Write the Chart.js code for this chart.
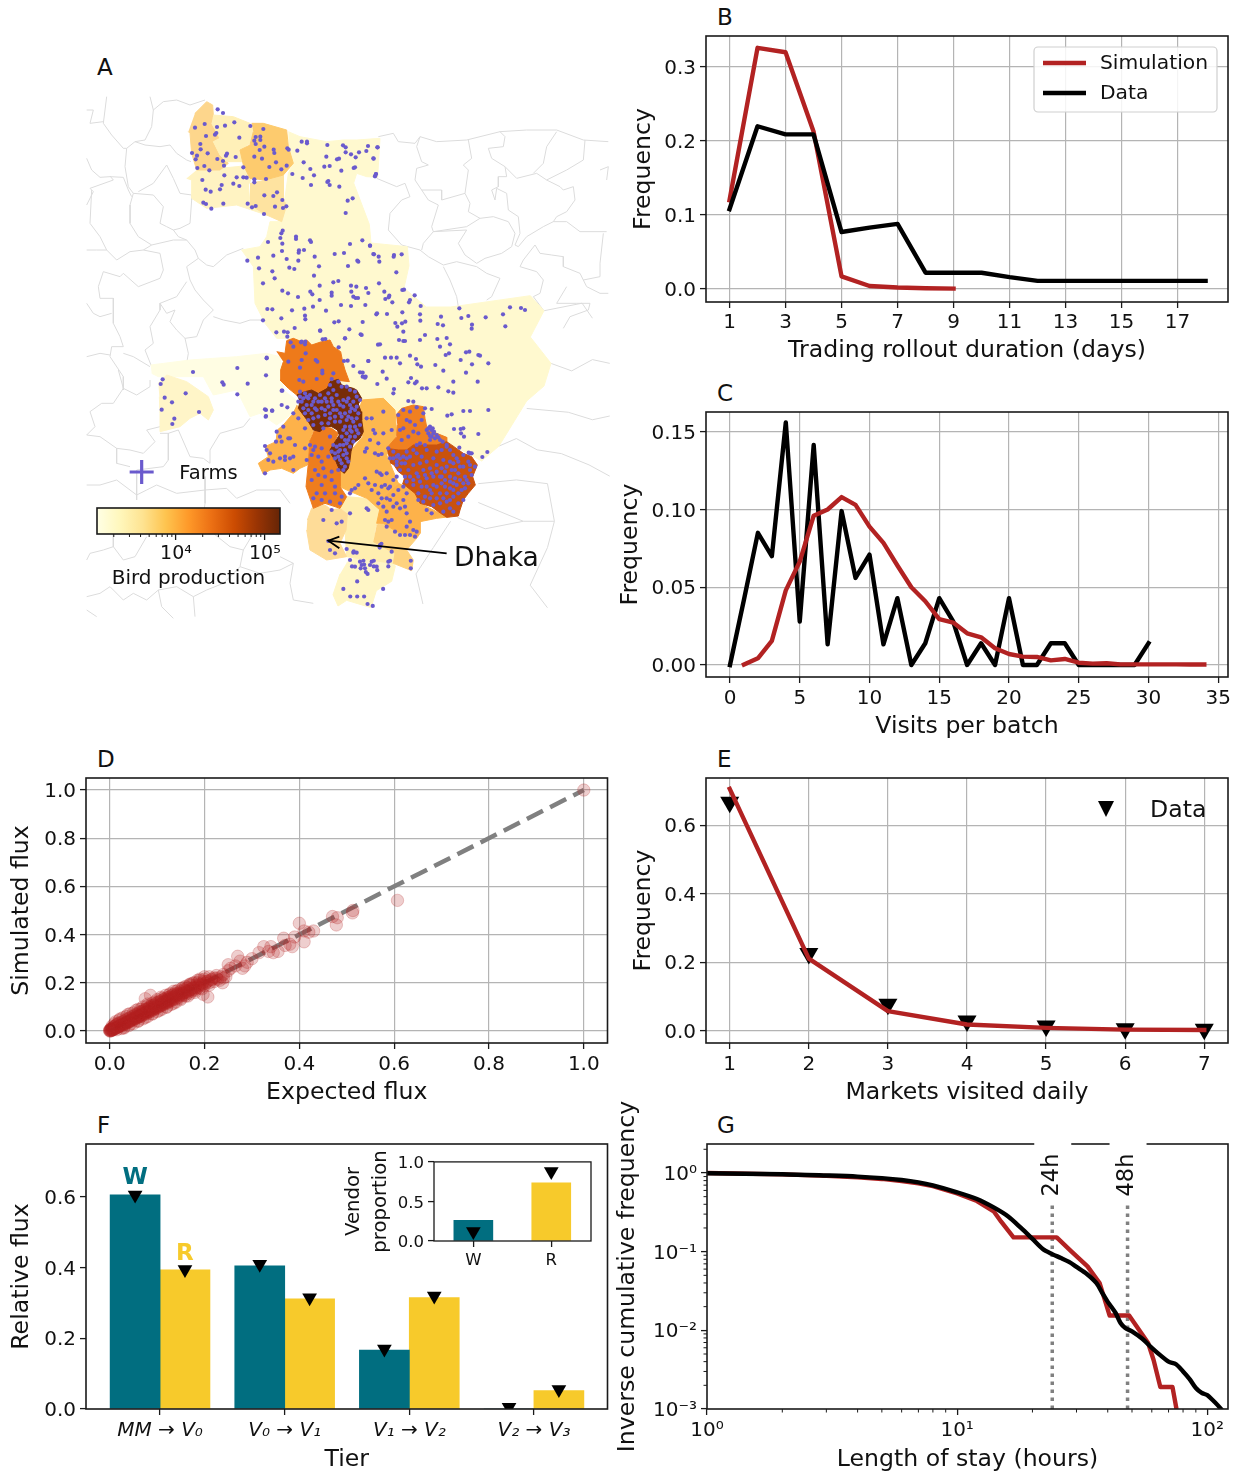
<!DOCTYPE html>
<html>
<head>
<meta charset="utf-8">
<title>Poultry trade model</title>
<script src="https://cdn.jsdelivr.net/npm/chart.js@4"></script>
<style>
  html, body { margin: 0; padding: 0; background: #fff; width: 1244px; height: 1473px; overflow: hidden; }
  canvas { position: absolute; }
  .tag { position: absolute; font: 23px "DejaVu Sans"; color: #111; }
</style>
</head>
<body>
<div class="tag" style="left:97px;top:54px">A</div>
<div class="tag" style="left:717px;top:4px">B</div>
<div class="tag" style="left:717px;top:380px">C</div>
<div class="tag" style="left:97px;top:746px">D</div>
<div class="tag" style="left:717px;top:746px">E</div>
<div class="tag" style="left:97px;top:1112px">F</div>
<div class="tag" style="left:717px;top:1112px">G</div>
<script>
// ---- panel B
const rolloutDays = [1, 2, 3, 4, 5, 6, 7, 8, 9, 10, 11, 12, 13, 14, 15, 16, 17, 18];
const rolloutSim = [0.12, 0.326, 0.32, 0.213, 0.017, 0.004, 0.002, 0.001, 0.0005];
const rolloutData = [0.108, 0.22, 0.209, 0.209, 0.077, 0.083, 0.088, 0.022, 0.022, 0.022, 0.016, 0.011, 0.011, 0.011, 0.011, 0.011, 0.011, 0.011];
const rolloutXTicks = [1, 3, 5, 7, 9, 11, 13, 15, 17];
const rolloutYTicks = [0, 0.1, 0.2, 0.3];

// ---- panel C
const visitsData = [0, 0.042, 0.085, 0.07, 0.156, 0.028, 0.1415, 0.0133, 0.099, 0.056, 0.071, 0.0133, 0.043, 0, 0.014, 0.043, 0.028, 0, 0.014, 0, 0.043, 0, 0, 0.014, 0.014, 0, 0, 0, 0, 0, 0.014];
const visitsSim = [0.0003, 0.0043, 0.0155, 0.048, 0.0665, 0.096, 0.1, 0.108, 0.103, 0.089, 0.0785, 0.064, 0.05, 0.041, 0.0295, 0.0273, 0.0204, 0.0178, 0.0108, 0.0071, 0.0054, 0.0052, 0.003, 0.0039, 0.0015, 0.0009, 0.0011, 0.0004, 0.0004, 0.0004, 0.0004, 0.0004, 0.0003, 0.0003];
const visitsXTicks = [0, 5, 10, 15, 20, 25, 30, 35];
const visitsYTicks = [0, 0.05, 0.1, 0.15];

// ---- panel D (expected, simulated)
const fluxPoints = [[1,1],[.607,.542],[.513,.5],[.512,.49],[.48,.47],[.47,.475],[.478,.44],[.4,.447],[.42,.41],[.41,.415],[.43,.415],[.41,.37],[.39,.39],[.367,.385],[.38,.36],[.37,.355],[.385,.35],[.315,.325],[.325,.35],[.34,.35],[.335,.33],[.355,.33],[.345,.325],[.3,.3],[.27,.31],[.275,.29],[.29,.285],[.285,.27],[.28,.26],[.265,.27],[.25,.275],[.255,.26],[.25,.25],[.24,.22],
[.197,.152],[.207,.141],[.075,.134],[.086,.148],[.245,.225],[.24,.235],[.238,.2],[.235,.225],[.232,.21],[.228,.215],[.225,.23],[.22,.22],[.22,.205],[.215,.212],[.21,.225],[.21,.2],[.208,.208],[.2,.215],[.202,.198],[.198,.205],[.19,.21],[.195,.19],[.19,.195],[.185,.2],[.185,.178],[.182,.19],[.175,.198],[.178,.172],[.176,.18],[.17,.19],[.172,.165],[.17,.172],[.164,.18],[.165,.158],[.162,.165],[.157,.172],[.158,.15],[.155,.158],[.15,.165],[.152,.146],[.148,.152],[.144,.157],[.146,.14],[.142,.148],[.138,.155],[.14,.133],[.136,.142],[.133,.15],[.134,.13],[.132,.138],[.129,.145],[.13,.125],[.128,.134],[.125,.14],[.126,.122],[.124,.13],[.121,.138],[.122,.118],[.12,.126],[.117,.134],[.118,.114],[.116,.122],[.113,.13],[.114,.11],[.112,.118],[.109,.126],[.11,.106],[.108,.112],[.105,.122],[.106,.102],[.104,.108],[.101,.118],[.102,.098],[.1,.104],[.097,.113],[.098,.094],[.096,.1],[.093,.108],[.094,.09],[.092,.096],[.089,.105],[.09,.085],[.088,.09],[.085,.1],[.086,.08],[.084,.086],[.081,.095],[.082,.078],[.08,.082],[.077,.09],[.078,.072],[.076,.078],[.073,.088],[.074,.069],[.072,.074],[.069,.082],[.07,.066],[.068,.07],[.065,.08],[.066,.06],[.064,.066],[.061,.075],[.062,.058],[.06,.06],[.057,.07],[.058,.054],[.056,.058],[.053,.066],[.054,.05],[.052,.053],[.049,.06],[.05,.046],[.048,.05],[.045,.058],[.046,.043],[.044,.046],[.041,.052],[.042,.038],[.04,.04],[.037,.05],[.038,.034],[.036,.037],[.033,.045],[.034,.03],[.032,.032],[.029,.04],[.03,.026],[.028,.029],[.025,.036],[.026,.021],[.024,.024],[.021,.033],[.022,.022],[.02,.019],[.017,.03],[.018,.016],[.015,.027],[.016,.015],[.013,.023],[.014,.012],[.011,.02],[.012,.01],[.009,.018],[.01,.008],[.007,.014],[.008,.006],[.005,.012],[.006,.004],[.003,.009],[.004,.002],[.001,.006],[.002,0],[0,.003],[0,0],[.001,.001],[.003,.003],[.002,.005],[.005,.005],[.006,.008],
[.02,.045],[.03,.015],[.035,.06],[.045,.03],[.05,.075],[.06,.04],[.065,.09],[.075,.055],[.08,.105],[.09,.07],[.095,.12],[.105,.085],[.11,.135],[.12,.1],[.125,.15],[.135,.115],[.14,.165],[.15,.13],[.155,.18],[.165,.145],[.17,.195],[.18,.16],[.185,.21],[.195,.175],[.2,.225],[.21,.19],[.14,.15],[.15,.15],[.16,.16],[.17,.17],[.18,.18],[.19,.19],[.13,.13],[.12,.12],[.11,.11],[.1,.1],[.09,.09],[.08,.08],[.07,.07],[.06,.06],[.05,.05],[.04,.04],[.03,.03],[.02,.02],[.01,.01],[.015,.005],[.025,.01],[.01,.03],[.005,.02],[.145,.145],[.135,.135],[.125,.125],[.115,.115],[.105,.105],[.095,.095],[.085,.085],[.075,.075],[.065,.065],[.055,.055],[.045,.045],[.035,.035],[.025,.025],[.015,.015],[.155,.155],[.165,.165],[.175,.175],[.185,.185],[.195,.195],[.205,.205],[.215,.215],[.225,.22],
[.012,.038],[.022,.05],[.028,.055],[.038,.068],[.043,.072],[.055,.085],[.06,.09],[.07,.1],[.08,.112],[.09,.115],[.1,.13],[.108,.14],[.118,.148],[.128,.155],[.135,.165],[.145,.17],[.152,.175],[.16,.185],[.168,.192],[.178,.2],[.19,.215],[.03,.012],[.04,.022],[.05,.03],[.06,.042],[.07,.05],[.08,.06],[.09,.072],[.1,.08],[.11,.09],[.12,.098],[.13,.11],[.14,.12],[.15,.135],[.16,.145],[.17,.155],[.18,.168],[.19,.178],[.2,.188],[.115,.125],[.108,.118],[.122,.132],[.13,.14],[.095,.105],[.088,.098],[.082,.092],[.072,.082],[.067,.076],[.058,.066],[.15,.157],[.158,.168],[.142,.152]];
const identityLine = [0, 1];
const fluxTicks = [0, 0.2, 0.4, 0.6, 0.8, 1];

// ---- panel E
const marketsVisited = [1, 2, 3, 4, 5, 6, 7];
const marketsSim = [0.706, 0.211, 0.058, 0.019, 0.009, 0.004, 0.003];
const marketsData = [0.667, 0.226, 0.078, 0.029, 0.0146, 0.0068, 0.005];
const marketsYTicks = [0, 0.2, 0.4, 0.6];

// ---- panel F
const tierLabels = ["MM → V₀", "V₀ → V₁", "V₁ → V₂", "V₂ → V₃"];
const tierPos = [0, 1, 2, 3];
const wholesaleFlux = [0.606, 0.405, 0.167, 0];
const retailFlux = [0.394, 0.312, 0.315, 0.052];
const wholesaleFluxData = [0.606, 0.41, 0.17, 0.005];
const retailFluxData = [0.395, 0.315, 0.32, 0.055];
const tierYTicks = [0, 0.2, 0.4, 0.6];
const vendorLabels = ["W", "R"];
const vendorSim = [0.26, 0.735];
const vendorData = [0.12, 0.88];
const vendorYTicks = [0, 0.5, 1];

// ---- panel G
const stayHoursData = [1, 2, 3, 4, 5, 6, 7, 8, 10, 12, 14, 16, 18, 20, 22, 24, 26, 28, 30, 33, 36, 38, 40, 43, 45, 47, 50, 55, 60, 65, 70, 75, 80, 85, 90, 95, 100, 105, 110, 115];
const stayFreqData = [0.99, 0.965, 0.93, 0.9, 0.86, 0.815, 0.76, 0.695, 0.568, 0.467, 0.365, 0.28, 0.2, 0.145, 0.108, 0.093, 0.083, 0.074, 0.064, 0.052, 0.04, 0.03, 0.023, 0.0166, 0.0124, 0.0107, 0.0097, 0.0078, 0.006, 0.0048, 0.004, 0.0037, 0.003, 0.0024, 0.00185, 0.0016, 0.0015, 0.0013, 0.00112, 0.00095];
const stayHoursSim = [1, 2, 3, 4, 5, 6, 7, 8, 10, 12, 14, 15, 16.8, 25, 28.6, 33.2, 37.1, 40.7, 48.7, 58, 61, 64.9, 72.6, 75.3, 76.5];
const stayFreqSim = [1, 0.96, 0.92, 0.88, 0.84, 0.79, 0.74, 0.68, 0.55, 0.44, 0.326, 0.24, 0.152, 0.152, 0.101, 0.065, 0.04, 0.0154, 0.0154, 0.0069, 0.0042, 0.0019, 0.0019, 0.001, 0.0008];
const stayMarkers = [24, 48];
const stayMarkerTop = 0.385;
const stayXTicks = [1, 10, 100];
const stayYTicks = [1, 0.1, 0.01, 0.001];
const superLabel = { "-3": "10⁻³", "-2": "10⁻²", "-1": "10⁻¹", "0": "10⁰", "1": "10¹", "2": "10²", "4": "10⁴", "5": "10⁵" };

// ---- panel A: everything in map units, per sheet
// sheet N: unit 0,0 top left. other sheets get moved on to it in place()
const regionColours = {
  light: "#fff9cf", strip: "#fffde3", west: "#fff5c8", nwA: "#fdd68c", nwB: "#fff0b8", nwMid: "#fdcb6e", nwC: "#fff3c2", nwD: "#fee3a0",
  orange: "#ee7a1a", brown: "#772c08", midOrange: "#fdb24a", darkOrange: "#c9520e", centre: "#fdb84f", pale: "#ffeeb0", dhaka: "#fedc98", south: "#fed27f", tail: "#fff6c6"
};
const polyLight = [625,125,660,140,740,155,790,150,830,150,900,145,893,262,860,260,830,250,821,279,868,403,873,459,982,470,987,527,972,594,1039,651,1112,651,1351,617,1392,662,1351,741,1413,820,1392,888,1340,933,1257,1068,1205,1113,1090,1050,880,930,810,930,620,745,590,745,555,700,525,640,520,530,485,480,540,470,560,440,570,395,605,395,625,250,640,220,625,170];
const polyNwA = [345,70,380,35,398,45,400,75,395,100,420,145,400,155,420,195,445,220,420,240,350,240,335,190,330,130,325,125];
const polyNwB = [400,75,460,80,510,100,520,120,510,160,480,180,490,215,440,215,420,195,400,155,420,145,395,100];
const polyNwMid = [515,100,550,100,620,120,625,170,640,220,610,255,555,270,510,265,490,225,480,180,510,165,520,125];
const polyNwC = [350,240,420,235,490,228,515,265,505,285,510,340,560,375,470,345,380,355,335,325,335,270,320,265];
const polyNwD = [510,280,560,270,610,255,610,330,620,345,605,395,560,375,510,345];
// sheet W
const polyStrip = [212,-15,330,-30,470,-40,560,-50,600,-40,610,60,655,95,625,140,590,165,540,130,510,140,490,100,470,60,400,75,370,20,235,20,215,10];
const polyWest = [235,40,260,15,320,35,385,80,400,120,385,150,360,130,330,145,300,170,240,185,240,130,238,80];
// sheet C
const polyOrangeTop = [80,65,105,70,110,32,130,25,155,35,170,30,185,45,215,35,240,30,250,50,272,65,278,95,285,120,298,155,272,152,245,150,235,175,215,190,185,180,165,185,140,195,115,175,90,150,92,120,100,95];
const polySwMid = [140,225,155,245,175,275,190,300,180,330,172,405,150,415,130,430,95,415,60,420,40,432,25,400,55,380,45,350,78,335,82,300,100,285,125,255];
const polyOrangeLow = [190,305,220,290,245,295,265,310,240,365,270,420,270,470,290,500,270,535,225,520,190,535,168,470,175,400,180,330];
const polyBrown = [140,195,165,185,185,180,205,190,232,175,240,155,265,148,275,165,298,172,310,175,320,180,335,205,325,222,333,245,335,270,340,305,330,325,310,340,303,365,300,390,295,415,283,430,268,418,258,395,245,375,240,360,252,340,268,315,262,300,245,290,225,290,210,305,190,300,175,275,160,255,145,235,150,215];
const polyCentre = [335,210,400,205,435,240,440,310,430,340,410,375,420,400,445,460,400,500,390,540,350,505,290,480,270,470,270,420,300,400,300,365,338,320,330,225];
const polyEastNorth = [438,255,455,235,490,225,520,230,525,265,530,290,560,310,590,322,590,340,560,345,490,345,470,360,440,360,410,355,440,320,442,285];
const polyEastDark = [410,355,445,360,470,360,490,345,520,345,560,345,590,335,612,350,640,370,665,380,682,405,668,440,676,465,655,490,640,510,630,540,625,558,590,562,565,545,545,530,510,520,495,490,470,470,458,462,465,440,445,425,432,405,420,398];
const polySouthMid = [350,505,400,500,445,460,490,480,510,520,560,545,600,560,560,565,510,575,510,610,500,625,440,605,400,580,380,580,390,535];
const polySouthEdge = [380,585,400,580,440,605,500,625,470,660,490,690,485,722,430,700,435,670,370,635];
const polyPale = [270,535,290,500,345,505,390,540,375,600,370,635,435,670,430,700,290,680,285,600,290,550];
const polyDhaka = [172,570,185,535,225,525,245,540,270,535,292,552,288,600,270,640,290,680,230,690,180,660,170,600];
// sheet N again
const polyTail = [780,1452,759,1514,774,1548,800,1531,873,1553,889,1502,935,1474,946,1429,904,1356,800,1418];

const boundariesN = [
  [80,20,75,60,70,100,95,135,130,175,140,175,165,155,195,150,215,110,220,60,210,20],
  [220,60,250,35,290,30,330,45,375,30],
  [20,205,35,240,60,262,90,260,130,262,145,300,155,320],
  [140,175,135,230,145,290,160,310,150,345,150,400,175,440,215,465],
  [165,155,195,165,240,170,270,165,290,190,320,210,333,215],
  [175,305,220,280,260,225,280,265,300,310,335,315,335,330,330,400,300,415,280,420,260,410,240,400,250,350,220,315,160,310],
  [280,420,295,440,320,450,345,480,355,505,380,525,400,530,440,495,490,475],
  [20,345,40,305,30,295,100,270,90,258],
  [20,60,40,60,30,100,70,95],
  [35,300,30,400,60,440,80,480,110,510,150,485,190,480,215,465],
  [20,480,50,480,80,480],
  [190,480,240,490,250,540,240,565,175,590,130,550,120,560,70,545,55,590,60,625,100,625],
  [215,465,280,450,320,450],
  [320,530,355,505],
  [320,530,330,570,345,600,370,630,400,660,370,690,350,740,315,745,290,720,270,695,285,660,260,670,240,640,290,620,320,575],
  [100,625,100,700,120,740,130,770,95,770,90,800,130,860,130,900],
  [240,640,240,660,210,710,220,760,195,780,215,830],
  [315,745,325,790,320,820],
  [400,680,430,690,480,700,510,690,550,690],
  [20,640,40,670,60,680,95,670],
  [20,800,60,790,90,795],
  [130,790,160,800,210,830]
];
const boundariesE = [
  [25,140,70,130,85,155,135,160,150,140,200,155,290,150,390,125,470,120,560,120,640,150,715,155],
  [150,140,140,170,155,215,175,225,140,235,135,270,155,300,215,300,215,330,285,310,295,240,280,225,305,205,295,150],
  [390,125,405,140,400,170,355,175,365,205,405,230,440,265,500,250,530,270,590,240,640,210,645,150],
  [560,125,530,170,520,220,490,250],
  [285,310,300,340,295,365,330,385,370,380,415,395,435,430,425,470,395,490,345,505,320,520,285,495,265,460,290,420,190,425,160,460,155,480],
  [20,265,80,290,105,280,120,320,95,330,60,370,55,420,95,465,150,480,175,500,220,525,260,515,320,530,350,550,390,565,365,620,350,630],
  [155,300,175,330,205,345,185,410,190,425],
  [330,385,290,410,190,425],
  [220,530,240,570,260,620,265,650],
  [530,270,570,290,580,300,610,290,615,330,590,365,560,380,550,395,590,395,630,425,710,425],
  [405,230,410,260,385,260,385,290,365,300,375,330,380,295,410,310,415,360,445,380,450,430,435,465,445,470,470,440,520,410,550,395],
  [495,465,460,510,450,530,500,545,520,570,510,610,490,620,520,660],
  [495,465,510,490,545,495,580,500,580,530,630,550,640,570,690,560,690,520,700,430],
  [590,590,560,640,620,640,660,640,655,660,600,680,580,715],
  [640,570,650,590,690,610,715,610],
  [690,240,715,230,710,270]
];
const boundariesW = [
  [115,0,130,55,100,100,65,100,30,125,45,170,20,195,60,200,110,235,110,280,150,290],
  [130,55,170,75,210,50,210,30],
  [240,190,265,190,265,270,250,290,170,300,170,390],
  [110,235,150,240,190,250,225,215,200,180,240,170],
  [295,180,330,260,370,265,390,280,390,240,420,190,490,170,510,145],
  [295,180,265,190],
  [20,345,60,345,110,330,170,375,200,360,230,345,290,370,375,360,440,355,470,385,530,360,600,360],
  [375,320,375,400,370,440],
  [100,490,100,530,70,540,30,550,20,570],
  [100,530,130,570,165,560,200,500],
  [20,680,60,670,90,650,130,690,160,670,200,690,235,660,290,650,340,680,345,740],
  [520,490,490,540,480,590,430,640,380,660,340,680],
  [600,560,640,580,630,640,640,690,700,700],
  [400,490,450,530,490,540],
  [20,720,50,740],
  [600,360,630,400],
  [235,660,245,710,280,745],
  [480,590,540,610,600,600,640,580]
];
// sheet Z: the east side
const boundariesZ = [
  [1370,720,1480,700,1510,740],
  [1390,860,1450,880,1510,850,1560,860],
  [1320,980,1440,990,1510,1010,1560,1000],
  [1240,1080,1290,1060,1350,1090,1420,1100,1500,1130,1560,1160],
  [1180,1180,1290,1170,1380,1180,1400,1280,1310,1280,1180,1230],
  [1400,1280,1380,1350,1330,1450,1380,1510],
  [1120,1270,1200,1300,1310,1280],
  [1100,1280,1050,1350,1000,1420,1020,1500]
];

const farmsN = [413,58,429,69,374,102,345,113,463,97,435,107,411,111,511,108,550,117,409,129,405,134,378,138,478,143,527,141,541,140,541,150,523,152,527,162,361,162,362,178,553,170,539,180,581,179,583,189,336,189,383,190,441,191,438,197,351,197,347,208,412,207,467,201,523,200,546,206,588,217,429,213,432,227,352,234,373,228,388,241,490,232,568,231,604,238,620,227,622,175,626,179,665,155,681,155,681,160,652,182,742,165,789,166,797,172,797,187,813,193,837,187,859,183,864,168,893,172,881,206,739,200,671,217,827,202,777,206,771,208,749,228,733,230,691,237,784,242,825,232,821,234,637,252,702,256,668,264,433,256,470,262,490,262,500,263,523,268,367,270,558,267,523,277,745,273,742,276,888,252,885,259,460,281,425,285,478,288,377,299,392,305,420,298,693,285,749,285,778,290,591,307,553,316,580,318,803,332,818,325,607,330,370,338,378,342,430,341,503,341,527,348,516,352,585,350,619,349,609,354,394,356,552,372,797,369,
  608,422,604,430,601,444,648,440,648,447,690,451,693,456,564,456,607,461,847,451,810,462,870,467,882,493,657,481,672,480,656,488,606,483,792,489,764,492,580,497,704,500,534,503,502,512,620,507,655,512,832,512,835,515,804,528,717,529,628,533,643,537,537,535,577,544,584,565,702,557,775,573,760,577,549,580,813,587,829,590,858,594,719,587,814,605,607,602,691,605,697,613,624,610,755,608,755,617,654,621,865,609,820,620,827,624,834,624,719,630,783,645,813,648,856,645,562,657,577,658,636,661,673,656,699,650,738,662,675,677,676,688,549,691,604,685,763,697,776,694,848,696,889,673,644,714,623,727,589,727,721,722,808,718,842,733,795,745,728,748,736,747,894,764,676,755,632,757,663,757,776,772,
  560,803,339,846,472,834,558,856,820,828,848,848,857,860,865,813];
const farmsW = [248,28,242,42,427,37,431,44,503,41,317,70,472,73,254,83,276,97,245,119,357,126,283,146,277,162,605,62,605,105,622,112,576,122,558,120,557,140];
const farmsE = [22,172,10,205,18,252,15,258,0,467,10,492,26,500,28,515,72,495,71,500,95,493,79,547,27,580,43,605,97,600,102,599,58,617,56,622,46,627,134,616,120,630,117,637,67,637,152,648,268,655,420,652,453,654,465,660,21,670,51,672,97,667,150,673,399,673,213,680,274,684,295,678,347,682,151,692,106,695,96,700,76,699,82,710,203,702,219,706,306,704,406,709,305,716];
const farmsC = [
  // pale north of the hot spot
  102,5,112,20,210,2,285,25,335,15,460,5,525,15,562,27,590,24,447,30,460,33,465,33,510,30,390,43,570,50,600,43,423,83,440,83,405,83,648,67,658,65,597,70,587,75,685,75,690,77,480,77,355,93,450,100,498,87,502,103,632,90,556,105,666,103,715,100,293,92,513,110,580,122,398,125,648,128,330,127,338,140,345,143,410,146,483,144,475,157,495,160,500,155,683,155,610,155,382,162,432,177,430,190,516,175,530,175,565,172,595,184,610,188,97,182,475,213,490,215,545,237,640,243,660,243,592,257,605,253,715,240,50,85,48,258,45,238,67,242,640,295,612,297,632,297,633,310,642,320,628,353,697,381,656,368,665,370,712,366,685,312,
  // orange top
  155,35,165,43,130,50,167,70,115,95,155,90,197,90,202,95,217,122,217,130,150,113,148,150,160,155,200,147,250,130,245,147,240,165,282,93,
  // brown
  150,185,165,190,180,195,150,200,160,205,145,215,155,215,175,205,190,215,210,195,235,190,250,180,265,155,275,170,290,170,300,180,315,185,320,200,330,210,260,195,245,205,225,205,205,215,185,225,170,225,160,235,175,240,165,250,185,250,200,240,215,235,235,230,250,225,265,215,280,210,295,205,310,215,300,225,280,230,260,240,240,250,225,255,205,260,190,265,175,270,190,285,215,280,240,265,255,260,270,250,285,250,300,245,315,240,325,250,320,265,305,265,290,270,270,275,255,275,235,280,220,295,285,290,300,290,315,290,330,285,320,300,305,305,290,310,275,320,285,330,300,320,315,320,290,340,270,345,260,350,250,345,245,365,255,370,270,360,285,360,300,350,265,380,280,375,290,385,275,400,285,410,270,390,255,385,280,420,295,395,
  170,200,195,205,215,215,230,215,245,215,270,225,290,215,305,235,320,230,195,235,225,240,250,240,275,260,295,260,310,275,280,300,300,300,325,310,295,330,310,335,265,365,280,345,290,370,
  // below brown
  240,320,180,345,195,350,190,360,215,355,185,375,205,380,215,395,235,380,220,415,195,420,205,435,225,440,245,425,265,420,185,450,215,465,245,450,255,470,200,490,225,490,255,490,215,510,240,515,270,520,190,505,275,500,
  // south west
  130,250,145,265,100,290,80,305,120,325,115,325,165,295,90,320,78,335,45,348,50,360,60,370,95,335,135,345,105,380,120,385,130,380,55,390,70,395,105,390,130,420,90,385,45,430,165,355,170,390,
  // centre
  350,265,365,265,400,245,370,300,375,310,425,300,360,330,385,340,350,355,345,365,400,310,375,370,385,375,395,372,380,425,390,430,395,435,410,430,355,460,375,465,405,465,415,475,420,470,345,445,325,465,315,475,305,480,300,490,365,480,385,490,395,470,430,450,440,440,430,495,445,480,460,470,470,490,395,505,410,505,420,510,440,520,460,510,430,530,450,535,465,530,400,530,385,520,355,540,350,535,410,545,470,550,425,570,415,575,405,570,410,590,435,605,450,615,480,575,470,590,490,600,500,605,480,615,495,620,465,615,
  // east north
  460,240,480,245,500,232,525,235,520,250,445,255,470,270,480,275,495,285,515,270,460,295,450,300,490,305,505,310,475,320,455,330,540,290,545,300,550,310,560,315,530,300,535,310,545,320,555,325,570,330,540,330,525,345,510,340,500,345,
  // east dark
  415,355,430,365,440,380,450,385,460,380,420,385,440,395,470,365,480,380,465,400,490,360,500,370,515,380,530,360,560,365,575,360,590,350,610,375,640,375,660,370,550,385,530,395,510,400,490,405,475,420,500,430,520,420,540,415,560,405,580,390,600,395,625,395,640,410,660,420,675,410,665,435,645,440,625,430,605,420,585,425,570,440,550,440,530,445,510,455,490,465,480,440,465,440,450,420,440,405,530,470,550,465,575,460,600,455,620,465,640,460,655,460,635,480,610,480,590,490,570,490,545,490,525,500,505,510,610,500,590,515,570,520,550,525,600,535,580,545,610,545,640,510,625,520,530,540,545,550,
  535,295,548,295,552,305,540,318,565,322,578,335,590,345,600,360,620,385,610,400,590,410,575,415,560,425,545,430,525,435,505,440,515,470,540,480,560,470,585,470,600,475,615,445,630,450,650,450,645,475,625,490,600,510,580,505,560,505,540,505,520,515,505,490,490,450,470,455,455,400,470,385,430,385,445,375,600,440,585,450,575,440,610,460,660,405,655,395,630,410,615,420,
  // dhaka
  245,540,220,570,260,580,275,575,235,633,300,550,240,660,255,670,290,657,310,668,320,668,300,690,330,695,335,705,345,715,365,695,380,710,415,695,425,665,390,645,315,710,360,705];
const farmsZ = [820,1360,848,1385,850,1395,878,1385,878,1400,840,1405,860,1420,888,1410,815,1400,920,1400,925,1385,985,1385,985,1405,900,1340,895,1350,830,1440,855,1415,905,1460,810,1480,830,1480,850,1480,860,1500,875,1505,790,1460];
const farmsKey = [185, 1146];
const dhakaShaft = [590,670,235,632];
const dhakaHead = [268,620,235,632,268,655];

// ---- colour bar
const birdRange = [1295, 148000];
const birdTicks = [10000, 100000];
const birdColours = ["#ffffe5", "#fff7bc", "#fee391", "#fec44f", "#fe9929", "#ec7014", "#cc4c02", "#993404", "#662506"];

// colours
const RED = "#b22222", TEAL = "#016e80", YELLOW = "#f7ca2b", FARM = "#6a5acd", INK = "#111";
const TICK_SIZE = 20, LABEL_SIZE = 23.6;

Chart.defaults.font.family = '"DejaVu Sans"';
Chart.defaults.color = INK;

// moves a flat list x,y,x,y from one reading sheet on to the map units
function place(flat, dx = 0, dy = 0, sx = 1, sy = 1) {
  const out = [];
  for (let i = 0; i < flat.length; i += 2) out.push({ x: flat[i] * sx + dx, y: flat[i + 1] * sy + dy });
  return out;
}
const sheetC = (f) => place(f, 510, 720);
const sheetE = (f) => place(f, 870, 0);
const sheetW = (f) => place(f, 0, 840);
const sheetZ = (f) => place(f, -30, -150, 1.038, 1.128);

const xy = (xs, ys) => ys.map((y, i) => ({ x: xs[i], y }));

const framePlugin = (width = 1.6) => ({
  id: "frame",
  afterDatasetsDraw(chart) {
    const { ctx, chartArea: a } = chart;
    ctx.save();
    ctx.strokeStyle = "#1a1a1a";
    ctx.lineWidth = width;
    ctx.strokeRect(a.left, a.top, a.right - a.left, a.bottom - a.top);
    ctx.restore();
  },
});

// canvas "middle" sits a bit high against the reference, push left axis labels down
const yLabelNudge = {
  id: "yLabelNudge",
  beforeDraw(chart) {
    Object.values(chart.scales).forEach((s) => {
      if (s.isHorizontal() || !s.options.display || s.nudged) return;
      s.getLabelItems(chart.chartArea).forEach((it) => { it.options.translation[1] += 1.8; });
      s.nudged = true;
    });
  },
};

function axis(o) {
  return {
    type: o.type || "linear",
    min: o.min,
    max: o.max,
    offset: false,
    border: { display: false },
    grid: { display: true, offset: false, drawOnChartArea: !!o.grid, color: "#b4b4b4", lineWidth: 1.2, tickColor: "#1a1a1a", tickWidth: 1.3, tickLength: 6 },
    ticks: { autoSkip: false, maxRotation: 0, minRotation: 0, padding: o.tickPad ?? 4, color: INK, font: { size: o.size || TICK_SIZE, style: o.tickStyle || "normal" }, callback: o.fmt },
    title: o.title ? { display: true, text: o.title, color: INK, font: { size: o.titleSize || LABEL_SIZE, lineHeight: o.titleLine || 1.2 }, padding: { top: o.titlePad, bottom: o.titlePad } } : { display: false },
    afterBuildTicks: (s) => { s.ticks = o.ticks.map((v) => ({ value: v })); },
    afterFit: (s) => { if (s.isHorizontal()) s.height = o.fit; else s.width = o.fit; },
  };
}

function makePanel(box, plot, config, plugins = []) {
  const c = document.createElement("canvas");
  c.width = box.w;
  c.height = box.h;
  c.style.left = box.x + "px";
  c.style.top = box.y + "px";
  document.body.appendChild(c);
  config.options.responsive = false;
  config.options.animation = false;
  config.options.layout = { autoPadding: false, padding: { top: plot.t - box.y, right: box.x + box.w - plot.r, left: 0, bottom: 0 } };
  config.options.plugins = { legend: { display: false }, tooltip: { enabled: false } };
  config.plugins = [yLabelNudge, ...plugins];
  return new Chart(c, config);
}

const lineSet = (data, color, width = 4.4) => ({ type: "line", data, borderColor: color, backgroundColor: color, borderWidth: width, pointRadius: 0, tension: 0, fill: false, borderJoinStyle: "round", borderCapStyle: "square" });
const triangles = (data, radius) => ({ type: "scatter", data, pointStyle: "triangle", rotation: 180, pointRadius: radius, backgroundColor: "#000", borderColor: "#000", borderWidth: 0 });

// ---- A: map
const polyDataset = (pts, colour) => ({ type: "scatter", showLine: true, data: pts, borderColor: colour, backgroundColor: colour, borderWidth: 1, fill: "shape", tension: 0, pointRadius: 0 });
const strokeDataset = (pts, colour, width) => ({ type: "scatter", showLine: true, data: pts, borderColor: colour, borderWidth: width, fill: false, tension: 0, pointRadius: 0 });

const allBoundaries = [...boundariesN.map((b) => place(b)), ...boundariesE.map(sheetE), ...boundariesW.map(sheetW), ...boundariesZ.map(sheetZ)];
const allFarms = [...place(farmsN), ...sheetW(farmsW), ...sheetE(farmsE), ...sheetC(farmsC), ...sheetZ(farmsZ)];

// paint order back to front, chart.js paints the first dataset last so it gets flipped
const mapLayers = [
  ...allBoundaries.map((b) => strokeDataset(b, "#dcdcdc", 1)),
  polyDataset(place(polyLight), regionColours.light),
  polyDataset(sheetW(polyStrip), regionColours.strip),
  polyDataset(sheetW(polyWest), regionColours.west),
  polyDataset(place(polyNwC), regionColours.nwC),
  polyDataset(place(polyNwD), regionColours.nwD),
  polyDataset(place(polyNwA), regionColours.nwA),
  polyDataset(place(polyNwB), regionColours.nwB),
  polyDataset(place(polyNwMid), regionColours.nwMid),
  polyDataset(place(polyTail), regionColours.tail),
  polyDataset(sheetC(polyPale), regionColours.pale),
  polyDataset(sheetC(polyDhaka), regionColours.dhaka),
  polyDataset(sheetC(polySouthEdge), regionColours.south),
  polyDataset(sheetC(polySouthMid), regionColours.midOrange),
  polyDataset(sheetC(polyCentre), regionColours.centre),
  polyDataset(sheetC(polySwMid), regionColours.midOrange),
  polyDataset(sheetC(polyOrangeTop), regionColours.orange),
  polyDataset(sheetC(polyOrangeLow), "#ee7d1e"),
  polyDataset(sheetC(polyEastNorth), "#f08020"),
  polyDataset(sheetC(polyEastDark), regionColours.darkOrange),
  polyDataset(sheetC(polyBrown), regionColours.brown),
  { type: "scatter", data: allFarms, pointStyle: "circle", pointRadius: 2.1, backgroundColor: FARM, borderWidth: 0 },
  { type: "scatter", data: place(farmsKey), pointStyle: "cross", pointRadius: 12, borderColor: FARM, borderWidth: 3.2 },
  strokeDataset(sheetC(dhakaShaft), "#000", 1.8),
  strokeDataset(sheetC(dhakaHead), "#000", 1.8),
];

const mapText = {
  id: "mapText",
  afterDatasetsDraw(chart) {
    const { ctx, scales: { x, y } } = chart;
    ctx.save();
    ctx.fillStyle = "#111";
    ctx.textBaseline = "middle";
    ctx.font = '19.5px "DejaVu Sans"';
    ctx.fillText("Farms", x.getPixelForValue(298), y.getPixelForValue(1152));
    ctx.font = '26.6px "DejaVu Sans"';
    ctx.fillText("Dhaka", x.getPixelForValue(1122), y.getPixelForValue(1407));
    ctx.restore();
  },
};
const hidden = (min, max, reverse = false) => ({ type: "linear", display: false, min, max, reverse });
makePanel({ x: 70, y: 40, w: 540, h: 590 }, { t: 40, r: 610 }, {
  type: "scatter",
  data: { datasets: mapLayers.slice().reverse() },
  options: { scales: { x: hidden(-30, 1590), y: hidden(-150, 1620, true) } },
}, [mapText]);

// colour bar on top of the map
const birdGradient = (ctx) => {
  const a = ctx.chart.chartArea;
  if (!a) return birdColours[4];
  const g = ctx.chart.ctx.createLinearGradient(a.left, 0, a.right, 0);
  birdColours.forEach((c, i) => g.addColorStop(i / (birdColours.length - 1), c));
  return g;
};
const logMinors = (axisId, from, to, lengthPx) => ({
  id: "minors" + axisId,
  afterDraw(chart) {
    const s = chart.scales[axisId], ctx = chart.ctx;
    ctx.save();
    ctx.strokeStyle = "#1a1a1a";
    ctx.lineWidth = 1;
    ctx.beginPath();
    for (let d = from; d <= to; d++) {
      for (let m = 2; m < 10; m++) {
        const v = m * Math.pow(10, d);
        if (v < s.min || v > s.max) continue;
        const p = s.getPixelForValue(v);
        if (s.isHorizontal()) { ctx.moveTo(p, chart.chartArea.bottom); ctx.lineTo(p, chart.chartArea.bottom + lengthPx); }
        else { ctx.moveTo(chart.chartArea.left, p); ctx.lineTo(chart.chartArea.left - lengthPx, p); }
      }
    }
    ctx.stroke();
    ctx.restore();
  },
});
makePanel({ x: 80, y: 495, w: 220, h: 105 }, { t: 508, r: 280 }, {
  type: "bar",
  data: { labels: [""], datasets: [{ data: [birdRange], backgroundColor: birdGradient, borderWidth: 0, barPercentage: 1, categoryPercentage: 1 }] },
  options: {
    indexAxis: "y",
    scales: {
      x: axis({ type: "logarithmic", min: birdRange[0], max: birdRange[1], ticks: birdTicks, fmt: (v) => superLabel[Math.round(Math.log10(v))], fit: 66, title: "Bird production", titleSize: 20, titlePad: 9, size: 19, tickPad: 3 }),
      y: { type: "category", display: true, grid: { display: false }, border: { display: false }, ticks: { display: false }, afterFit: (s) => { s.width = 17; } },
    },
  },
}, [framePlugin(1.6), logMinors("x", 3, 5, 3)]);

// ---- B
const legendB = {
  id: "legendB",
  afterDraw(chart) {
    const { ctx } = chart;
    const left = chart.chartArea.right - 194, top = chart.chartArea.top + 11;
    ctx.save();
    ctx.fillStyle = "rgba(255,255,255,.85)";
    ctx.strokeStyle = "#cfcfcf";
    ctx.lineWidth = 1.2;
    ctx.beginPath();
    ctx.roundRect(left, top, 183, 65, 4);
    ctx.fill();
    ctx.stroke();
    chart.data.datasets.forEach((d, i) => {
      const y = top + 16 + i * 30;
      ctx.strokeStyle = d.borderColor;
      ctx.lineWidth = 4.4;
      ctx.beginPath();
      ctx.moveTo(left + 9, y);
      ctx.lineTo(left + 52, y);
      ctx.stroke();
      ctx.fillStyle = INK;
      ctx.font = '20.3px "DejaVu Sans"';
      ctx.textBaseline = "middle";
      ctx.fillText(d.label, left + 66, y + 1);
    });
    ctx.restore();
  },
};
makePanel({ x: 625, y: 0, w: 619, h: 370 }, { t: 36, r: 1228 }, {
  type: "line",
  data: { datasets: [
    Object.assign(lineSet(xy(rolloutDays, rolloutSim), RED), { label: "Simulation", order: 1 }),
    Object.assign(lineSet(xy(rolloutDays, rolloutData), "#000"), { label: "Data", order: 0 }),
  ] },
  options: { scales: {
    x: axis({ min: 0.16, max: 18.8, ticks: rolloutXTicks, fmt: (v) => v, grid: true, fit: 68, title: "Trading rollout duration (days)", titlePad: 5, tickPad: 3 }),
    y: axis({ min: -0.0176, max: 0.342, ticks: rolloutYTicks, fmt: (v) => v.toFixed(1), grid: true, fit: 81, title: "Frequency", titlePad: 5 }),
  } },
}, [framePlugin(), legendB]);

// ---- C
makePanel({ x: 610, y: 380, w: 634, h: 366 }, { t: 412, r: 1228 }, {
  type: "line",
  data: { datasets: [
    Object.assign(lineSet(visitsData.map((y, i) => ({ x: i, y })), "#000"), { order: 1 }),
    Object.assign(lineSet(visitsSim.map((y, i) => ({ x: i + 1, y })), RED), { order: 0 }),
  ] },
  options: { scales: {
    x: axis({ min: -1.72, max: 35.7, ticks: visitsXTicks, fmt: (v) => v, grid: true, fit: 69, title: "Visits per batch", titlePad: 5 }),
    y: axis({ min: -0.0077, max: 0.1627, ticks: visitsYTicks, fmt: (v) => v.toFixed(2), grid: true, fit: 96, title: "Frequency", titlePad: 7 }),
  } },
}, [framePlugin()]);

// ---- D
makePanel({ x: 0, y: 750, w: 610, h: 362 }, { t: 778, r: 607.5 }, {
  type: "scatter",
  data: { datasets: [
    Object.assign(lineSet(identityLine.map((v) => ({ x: v, y: v })), "#808080", 4.5), { borderDash: [18, 8], borderCapStyle: "butt", order: 1 }),
    { data: fluxPoints.map((p) => ({ x: p[0], y: p[1] })), pointRadius: 6.2, backgroundColor: "rgba(178,34,34,.22)", borderColor: "rgba(178,34,34,.24)", borderWidth: 1, order: 0 },
  ] },
  options: { scales: {
    x: axis({ min: -0.05, max: 1.05, ticks: fluxTicks, fmt: (v) => v.toFixed(1), grid: true, fit: 69, title: "Expected flux", titlePad: 5 }),
    y: axis({ min: -0.05, max: 1.05, ticks: fluxTicks, fmt: (v) => v.toFixed(1), grid: true, fit: 86, title: "Simulated flux", titlePad: 8 }),
  } },
}, [framePlugin()]);

// ---- E
const legendE = {
  id: "legendE",
  afterDraw(chart) {
    const { ctx, chartArea: a } = chart;
    ctx.save();
    ctx.fillStyle = "#000";
    const cx = a.right - 122, cy = a.top + 31;
    ctx.beginPath();
    ctx.moveTo(cx - 8, cy - 8);
    ctx.lineTo(cx + 8, cy - 8);
    ctx.lineTo(cx, cy + 8);
    ctx.closePath();
    ctx.fill();
    ctx.fillStyle = INK;
    ctx.font = LABEL_SIZE + 'px "DejaVu Sans"';
    ctx.textBaseline = "middle";
    ctx.fillText("Data", a.right - 78, cy + 2);
    ctx.restore();
  },
};
makePanel({ x: 625, y: 750, w: 619, h: 362 }, { t: 778, r: 1228 }, {
  type: "line",
  data: { datasets: [
    Object.assign(triangles(xy(marketsVisited, marketsData), 11), { order: 1 }),
    Object.assign(lineSet(xy(marketsVisited, marketsSim), RED), { order: 0 }),
  ] },
  options: { scales: {
    x: axis({ min: 0.7, max: 7.3, ticks: marketsVisited, fmt: (v) => v, grid: true, fit: 69, title: "Markets visited daily", titlePad: 5 }),
    y: axis({ min: -0.035, max: 0.7376, ticks: marketsYTicks, fmt: (v) => v.toFixed(1), grid: true, fit: 81, title: "Frequency", titlePad: 5 }),
  } },
}, [framePlugin(), legendE]);

// ---- F
const bars = (data, colour, thick) => ({ type: "bar", data, backgroundColor: colour, borderWidth: 0, barThickness: thick, grouped: false, order: 1 });
const shift = (xs, d) => xs.map((v) => v + d);
const tierNames = {
  id: "tierNames",
  afterDatasetsDraw(chart) {
    const { ctx, scales: { x, y } } = chart;
    ctx.save();
    ctx.font = 'bold 23px "DejaVu Sans"';
    ctx.textAlign = "center";
    ctx.textBaseline = "middle";
    ctx.fillStyle = TEAL;
    ctx.fillText("W", x.getPixelForValue(-0.2), y.getPixelForValue(0.655));
    ctx.fillStyle = YELLOW;
    ctx.fillText("R", x.getPixelForValue(0.2), y.getPixelForValue(0.44));
    ctx.restore();
  },
};
makePanel({ x: 0, y: 1110, w: 610, h: 363 }, { t: 1144, r: 607.5 }, {
  type: "bar",
  data: { datasets: [
    bars(xy(shift(tierPos, -0.2), wholesaleFlux), TEAL, 50),
    bars(xy(shift(tierPos, 0.2), retailFlux), YELLOW, 50),
    Object.assign(triangles(xy(shift(tierPos, -0.2), wholesaleFluxData), 8.5), { order: 0 }),
    Object.assign(triangles(xy(shift(tierPos, 0.2), retailFluxData), 8.5), { order: 0 }),
  ] },
  options: { scales: {
    x: axis({ min: -0.594, max: 3.59, ticks: tierPos, fmt: (v) => tierLabels[v], fit: 64, title: "Tier", titlePad: -1, tickStyle: "italic" }),
    y: axis({ min: 0, max: 0.75, ticks: tierYTicks, fmt: (v) => v.toFixed(1), fit: 86, title: "Relative flux", titlePad: 8 }),
  } },
}, [framePlugin(), tierNames]);

// inset
makePanel({ x: 335, y: 1148, w: 270, h: 135 }, { t: 1161, r: 591 }, {
  type: "bar",
  data: { datasets: [
    bars([{ x: 0, y: vendorSim[0] }, { x: 1, y: vendorSim[1] }], [TEAL, YELLOW], 39),
    Object.assign(triangles(vendorData.map((y, i) => ({ x: i, y })), 8.5), { order: 0 }),
  ] },
  options: { scales: {
    x: axis({ min: -0.505, max: 1.51, ticks: [0, 1], fmt: (v) => vendorLabels[v], fit: 42, size: 16.5 }),
    y: axis({ min: 0, max: 1, ticks: vendorYTicks, fmt: (v) => v.toFixed(1), fit: 99, size: 16.5, title: ["Vendor", "proportion"], titleSize: 19.7, titleLine: 1.37, titlePad: 5.5 }),
  } },
}, [framePlugin(1.3)]);

// ---- G
const stayLabels = {
  id: "stayLabels",
  afterDraw(chart) {
    const { ctx, chartArea: a, scales: { x } } = chart;
    stayMarkers.forEach((h) => {
      const px = x.getPixelForValue(h);
      ctx.save();
      ctx.fillStyle = "#fff";
      ctx.fillRect(px - 18, a.top - 8, 37, 68);
      ctx.translate(px, a.top + 31);
      ctx.rotate(-Math.PI / 2);
      ctx.fillStyle = INK;
      ctx.font = '22.5px "DejaVu Sans"';
      ctx.textAlign = "center";
      ctx.textBaseline = "middle";
      ctx.fillText(h + "h", 0, 0);
      ctx.restore();
    });
  },
};
const stayMarkerSet = (h) => Object.assign(lineSet([{ x: h, y: stayMarkerTop }, { x: h, y: 0.001 }], "#808080", 3.5), { borderDash: [3.5, 4.5], borderCapStyle: "butt", order: 2 });
makePanel({ x: 610, y: 1095, w: 634, h: 378 }, { t: 1144, r: 1228 }, {
  type: "line",
  data: { datasets: [
    ...stayMarkers.map(stayMarkerSet),
    Object.assign(lineSet(xy(stayHoursSim, stayFreqSim), RED), { order: 1 }),
    Object.assign(lineSet(xy(stayHoursData, stayFreqData), "#000"), { order: 0, tension: 0.3 }),
  ] },
  options: { scales: {
    x: axis({ type: "logarithmic", min: 1, max: 121, ticks: stayXTicks, fmt: (v) => superLabel[Math.round(Math.log10(v))], fit: 64, title: "Length of stay (hours)", titlePad: -1 }),
    y: axis({ type: "logarithmic", min: 0.001, max: 2.335, ticks: stayYTicks, fmt: (v) => superLabel[Math.round(Math.log10(v))], fit: 97, title: "Inverse cumulative frequency", titlePad: 4 }),
  } },
}, [framePlugin(), logMinors("x", 0, 2, 3.5), logMinors("y", -3, 0, 3.5), stayLabels]);
</script>
</body>
</html>
